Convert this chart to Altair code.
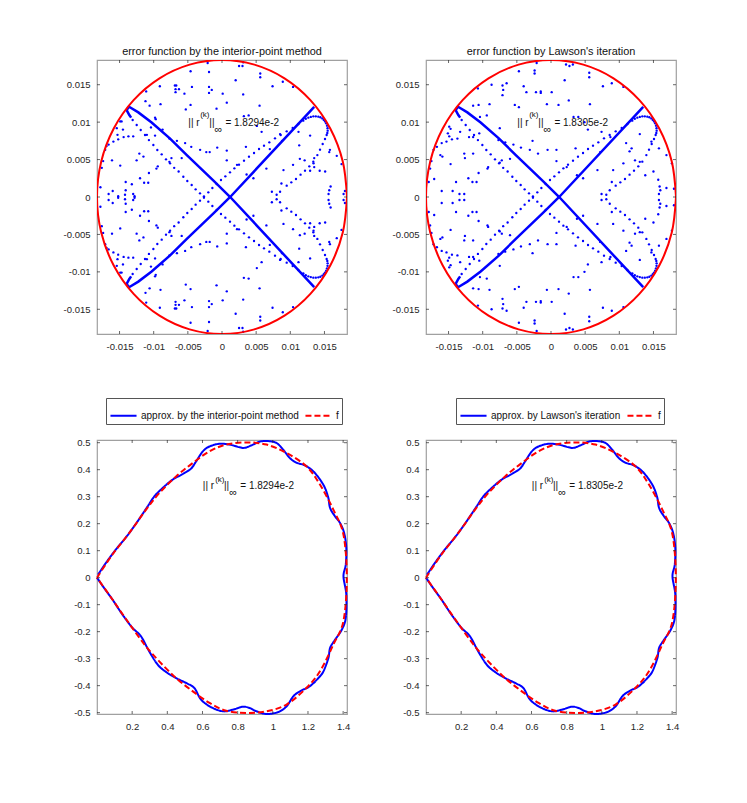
import pandas as pd
import altair as alt

FONT = "Liberation Sans"
INK = "#262626"
BLUE = "#0000ff"
RED = "#ff0000"

# error plots, values in units of 1e-3
ERR_TICKS = [-0.015, -0.01, -0.005, 0, 0.005, 0.01, 0.015]
ERR_DOMAIN = [-0.0183, 0.0183]

CIRCLE_X = [18.3, 17.68, 15.85, 12.94, 9.15, 4.74, 0, -4.74, -9.15, -12.94, -15.85, -17.68, -18.3,
            -17.68, -15.85, -12.94, -9.15, -4.74, 0, 4.74, 9.15, 12.94, 15.85, 17.68, 18.3]
CIRCLE_Y = [0, 4.74, 9.15, 12.94, 15.85, 17.68, 18.3, 17.68, 15.85, 12.94, 9.15, 4.74, 0,
            -4.74, -9.15, -12.94, -15.85, -17.68, -18.3, -17.68, -15.85, -12.94, -9.15, -4.74, 0]

THICK_X = [-13.3, -13.57, -13.96, -13.6, -12.25, -10.3, -7.6, -5.15, -1.25, 1.2, 13.5]
THICK_Y_A = [10.6, 10.95, 11.62, 12.05, 11.3, 9.95, 7.8, 5.6, 2.2, 0, -12.05]
THICK_Y_B = [-10.6, -10.95, -11.62, -12.05, -11.3, -9.95, -7.8, -5.6, -2.2, 0, 12.05]

LOOP_X = [-13.08, -12.49, -11.9, -11.27, -10.7, -10.05, -9.47, -8.83, -8.2, -7.6, -7.0, -6.35, -5.66,
          -5.08, -4.44, -3.86, -3.22, -2.64, -2.0, -1.41, -0.78, -0.15, 0.49, 1.17, 1.81, 2.49, 3.22,
          3.95, 4.69, 5.42, 6.15, 6.93, 7.76, 8.59, 9.47, 10.35, 11.18, 11.9, 12.27, 12.64, 13.0, 13.37,
          13.73, 14.1, 14.4, 14.69, 14.9, 15.08, 15.25, 15.37, 15.45, 15.47, 15.42, 15.32, 15.08, 14.74,
          14.35, 13.96, 13.37, 12.78, 12.15, 11.5, 10.83, 10.15, 9.47]
LOOP_Y_A = [10.29, 9.62, 8.95, 8.28, 7.6, 6.95, 6.28, 5.7, 5.03, 4.5, 3.9, 3.4, 2.7, 2.14, 1.6, 1.02,
            0.49, -0.09, -0.62, -1.2, -1.74, -2.27, -2.76, -3.29, -3.83, -4.32, -4.85, -5.39, -5.88,
            -6.41, -6.86, -7.3, -7.84, -8.28, -8.77, -9.22, -9.75, -10.2, -10.45, -10.6, -10.7, -10.77,
            -10.77, -10.73, -10.65, -10.5, -10.3, -10.1, -9.85, -9.53, -9.2, -8.86, -8.55, -8.28, -7.75,
            -7.08, -6.32, -5.6, -4.72, -4.1, -3.52, -2.98, -2.4, -1.96, -1.51]
LOOP_Y_B = [-10.29, -9.62, -8.95, -8.28, -7.6, -6.95, -6.28, -5.7, -5.03, -4.5, -3.9, -3.4, -2.7,
            -2.14, -1.6, -1.02, -0.49, 0.09, 0.62, 1.2, 1.74, 2.27, 2.76, 3.29, 3.83, 4.32, 4.85,
            5.39, 5.88, 6.41, 6.86, 7.3, 7.84, 8.28, 8.77, 9.22, 9.75, 10.2, 10.45, 10.6, 10.7, 10.77,
            10.77, 10.73, 10.65, 10.5, 10.3, 10.1, 9.85, 9.53, 9.2, 8.86, 8.55, 8.28, 7.75,
            7.08, 6.32, 5.6, 4.72, 4.1, 3.52, 2.98, 2.4, 1.96, 1.51]

IP_X = [-2.1, -1.9, -4.6, 2.5, 3.0, 3.1, 2.0, 5.6, 5.6, 8.9, 7.4, 10.4, -6.9, -6.7, -9.1, -4.4, -6.8,
        -6.3, -6.8, -5.5, -1.9, -1.5, -1.9, 0.1, 3.1, -11.1, -11.2, -10.6, -9.0, 0.7, -0.8, -5.3, -4.6,
        5.5, -9.8, -9.7, -10.4, -8.7, -11.0, -9.8, -7.7, -6.6, -5.4, -4.5, -3.2, -2.3, -1.8, -0.7, 0.7,
        3.2, 3.9, 5.1, 5.8, 8.5, 8.8, 11.2, 12.9, 11.3, 15.8, 15.7, 16.8, 17.5, 12.1, 13.5, 13.4, 13.5,
        10.4, 14.3, 15.1, 12.9, 9.0, 8.7, 8.5, 8.0, 7.3, 6.5, 3.5, 4.6, 3.6, 7.0, 0.7, 2.2, -7.4, -7.7,
        -5.9, -9.6, -9.4, -10.7, -17.8, -17.6, -17.4, -17.1, -16.9, -16.6, -15.9, -15.2, -14.4, -13.7,
        -13.0, -14.9, -14.7, -15.4, -15.3, -14.5, -16.1, -14.9, -12.5, -12.1, -11.5, -14.1, -14.1,
        -13.2, -14.2, -13.0, -12.8, -16.0, -15.2, -16.6, -12.0, -11.4, -10.8, 15.9, 15.7, 15.6, 18.0,
        17.8, 11.4]
IP_Y_UP = [17.9, 16.7, 16.8, 17.5, 17.5, 18.0, 15.6, 16.5, 16.0, 15.4, 14.8, 14.7, 14.9, 14.9, 14.8,
           14.7, 14.4, 14.4, 14.0, 13.8, 14.7, 14.3, 13.9, 13.8, 13.7, 14.1, 12.8, 12.2, 12.4, 12.6,
           11.8, 11.7, 12.3, 12.2, 10.6, 10.4, 9.3, 9.0, 8.3, 8.2, 7.8, 7.5, 7.2, 6.7, 6.3, 6.0, 6.0,
           6.6, 6.2, 10.8, 10.9, 9.5, 8.7, 8.4, 7.5, 8.7, 8.2, 6.9, 6.3, 6.0, 5.5, 4.4, 4.9, 5.2, 4.5,
           4.0, 4.3, 3.5, 3.4, 3.5, 3.6, 1.8, 0.7, 0.3, 0.7, 3.8, 6.7, 2.5, 3.0, 6.4, 4.9, 4.3, 5.2, 4.7,
           5.2, 3.8, 4.1, 3.2, 1.3, 3.9, 4.8, 6.3, 6.8, 7.0, 7.4, 7.7, 8.0, 8.1, 8.1, 10.1, 10.1, 9.2,
           8.3, 9.0, 4.9, 4.2, 4.9, 5.8, 5.4, 2.0, 0.9, 1.7, 0.3, 0.4, 0.1, 0.8, 0.1, 0.4, 2.5, 1.9, 1.9,
           1.4, 0.9, 0.4, 0.8, 0.4, 5.1]
IP_Y_DOWN = [-17.9, -16.7, -16.8, -17.5, -17.5, -18.0, -15.6, -16.5, -16.0, -15.4, -14.8, -14.7, -14.9,
             -14.9, -14.8, -14.7, -14.4, -14.4, -14.0, -13.8, -14.7, -14.3, -13.9, -13.8, -13.7, -14.1,
             -12.8, -12.2, -12.4, -12.6, -11.8, -11.7, -12.3, -12.2, -10.6, -10.4, -9.3, -9.0, -8.3,
             -8.2, -7.8, -7.5, -7.2, -6.7, -6.3, -6.0, -6.0, -6.6, -6.2, -10.8, -10.9, -9.5, -8.7, -8.4,
             -7.5, -8.7, -8.2, -6.9, -6.3, -6.0, -5.5, -4.4, -4.9, -5.2, -4.5, -4.0, -4.3, -3.5, -3.4,
             -3.5, -3.6, -1.8, -0.7, -0.3, -0.7, -3.8, -6.7, -2.5, -3.0, -6.4, -4.9, -4.3, -5.2, -4.7,
             -5.2, -3.8, -4.1, -3.2, -1.3, -3.9, -4.8, -6.3, -6.8, -7.0, -7.4, -7.7, -8.0, -8.1, -8.1,
             -10.1, -10.1, -9.2, -8.3, -9.0, -4.9, -4.2, -4.9, -5.8, -5.4, -2.0, -0.9, -1.7, -0.3, -0.4,
             -0.1, -0.8, -0.1, -0.4, -2.5, -1.9, -1.9, -1.4, -0.9, -0.4, -0.8, -0.4, -5.1]

LW_X = [-2.1, -4.7, -2.4, -2.4, 2.2, 2.7, 3.2, 2.0, 5.6, 5.6, 8.9, 7.6, 10.6, -6.5, -7.1, -8.7, -10.7,
        -4.0, -7.0, -7.1, -3.6, -2.2, -1.5, -1.5, 0.1, 2.6, 5.7, -0.6, 1.1, -5.3, -4.7, -9.0, -10.6,
        -11.4, -9.4, -10.4, -14.9, -14.7, -15.1, -14.9, -13.3, -12.0, -11.4, -10.5, -7.5, -7.7, -6.7,
        -5.5, -4.4, -3.1, -1.9, -2.7, -0.5, 0.8, 3.3, 4.0, 4.9, 5.4, 7.4, 8.7, 13.0, 11.0, 11.8, 11.5,
        14.7, 15.8, 16.9, 17.7, 12.3, 13.0, 10.6, 15.0, 13.8, 9.1, 8.9, 8.6, 7.4, 8.1, 6.8, 3.6, 4.7,
        3.8, 7.2, 0.8, 2.3, -7.2, -7.5, -6.0, -9.3, -9.2, -10.6, -12.7, -12.6, -11.4, -14.7, -15.9,
        -16.2, -12.1, -11.5, -10.9, -13.9, -14.4, -13.4, -12.7, -16.0, -17.1, -17.9, -17.7, -17.5,
        -17.2, -16.7, -16.0, -15.3, -14.5, -13.7, 16.0, 15.8, 15.9, 16.9, 18.0, 15.7]
LW_Y_UP = [17.9, 16.8, 16.9, 16.5, 17.7, 17.5, 17.7, 15.6, 16.6, 16.0, 15.2, 14.8, 14.7, 15.2, 14.9,
           15.0, 14.5, 14.8, 14.3, 13.6, 14.0, 14.0, 14.1, 13.9, 14.0, 12.9, 12.4, 12.4, 12.3, 12.3,
           12.0, 12.4, 12.3, 12.2, 10.9, 10.7, 9.4, 9.1, 8.5, 8.1, 8.7, 8.0, 8.0, 8.5, 9.2, 7.6, 7.3,
           7.0, 6.6, 6.3, 5.8, 7.5, 6.3, 6.3, 10.7, 10.7, 10.0, 9.0, 8.7, 8.0, 8.4, 7.2, 6.5, 6.1, 7.4,
           6.5, 5.6, 4.5, 4.9, 4.7, 4.5, 3.4, 2.9, 3.6, 2.0, 0.9, 0.4, 0.3, 3.6, 6.5, 2.5, 2.9, 6.0, 4.8,
           4.0, 4.9, 4.6, 5.1, 3.8, 4.0, 3.2, 5.8, 5.2, 5.8, 4.4, 5.4, 5.6, 2.5, 2.0, 2.0, 2.0, 0.8, 0.4,
           0.4, 0.8, 2.4, 2.0, 3.8, 4.8, 6.3, 6.7, 7.2, 7.4, 7.7, 7.8, 0.9, 0.4, 1.4, 1.2, 1.1, 2.3]
LW_Y_DOWN = [-17.9, -16.8, -16.9, -16.5, -17.7, -17.5, -17.7, -15.6, -16.6, -16.0, -15.2, -14.8, -14.7,
             -15.2, -14.9, -15.0, -14.5, -14.8, -14.3, -13.6, -14.0, -14.0, -14.1, -13.9, -14.0, -12.9,
             -12.4, -12.4, -12.3, -12.3, -12.0, -12.4, -12.3, -12.2, -10.9, -10.7, -9.4, -9.1, -8.5,
             -8.1, -8.7, -8.0, -8.0, -8.5, -9.2, -7.6, -7.3, -7.0, -6.6, -6.3, -5.8, -7.5, -6.3, -6.3,
             -10.7, -10.7, -10.0, -9.0, -8.7, -8.0, -8.4, -7.2, -6.5, -6.1, -7.4, -6.5, -5.6, -4.5, -4.9,
             -4.7, -4.5, -3.4, -2.9, -3.6, -2.0, -0.9, -0.4, -0.3, -3.6, -6.5, -2.5, -2.9, -6.0, -4.8,
             -4.0, -4.9, -4.6, -5.1, -3.8, -4.0, -3.2, -5.8, -5.2, -5.8, -4.4, -5.4, -5.6, -2.5, -2.0,
             -2.0, -2.0, -0.8, -0.4, -0.4, -0.8, -2.4, -2.0, -3.8, -4.8, -6.3, -6.7, -7.2, -7.4, -7.7,
             -7.8, -0.9, -0.4, -1.4, -1.2, -1.1, -2.3]

# boundary curves
CURVE_X_TICKS = [0.2, 0.4, 0.6, 0.8, 1, 1.2, 1.4]
CURVE_Y_TICKS = [-0.5, -0.4, -0.3, -0.2, -0.1, 0, 0.1, 0.2, 0.3, 0.4, 0.5]
CURVE_X_DOMAIN = [0, 1.422]
CURVE_Y_DOMAIN = [-0.505, 0.51]

APPROX_X = [0.006, 0.05, 0.107, 0.164, 0.211, 0.25, 0.288, 0.326, 0.373, 0.43, 0.488, 0.535, 0.564,
            0.602, 0.64, 0.697, 0.754, 0.811, 0.84, 0.878, 0.926, 0.973, 1.021, 1.059, 1.097, 1.135,
            1.183, 1.23, 1.269, 1.297, 1.316, 1.326, 1.354, 1.383, 1.406, 1.418, 1.415, 1.402, 1.418,
            1.415, 1.392, 1.354, 1.326, 1.316, 1.288, 1.259, 1.211, 1.154, 1.116, 1.078, 1.03, 0.964,
            0.907, 0.869, 0.83, 0.773, 0.716, 0.65, 0.592, 0.554, 0.507, 0.45, 0.392, 0.345, 0.297,
            0.25, 0.202, 0.145, 0.088, 0.04, 0]
APPROX_Y = [0.011, 0.054, 0.104, 0.149, 0.19, 0.227, 0.264, 0.301, 0.332, 0.363, 0.384, 0.404, 0.431,
            0.468, 0.486, 0.496, 0.493, 0.483, 0.481, 0.49, 0.504, 0.506, 0.499, 0.474, 0.443, 0.426,
            0.416, 0.394, 0.363, 0.332, 0.295, 0.258, 0.227, 0.202, 0.165, 0.11, 0.048, 0.005, -0.063,
            -0.149, -0.193, -0.23, -0.26, -0.298, -0.347, -0.372, -0.402, -0.421, -0.44, -0.477,
            -0.498, -0.505, -0.495, -0.483, -0.478, -0.489, -0.495, -0.48, -0.452, -0.409, -0.39,
            -0.372, -0.349, -0.322, -0.273, -0.217, -0.186, -0.137, -0.081, -0.038, 0]
TARGET_X = [0, 0.088, 0.183, 0.278, 0.354, 0.45, 0.545, 0.64, 0.735, 0.85, 0.964, 1.078, 1.192, 1.269,
            1.345, 1.402, 1.421, 1.402, 1.345, 1.269, 1.192, 1.078, 0.964, 0.85, 0.735, 0.64, 0.545,
            0.45, 0.354, 0.278, 0.183, 0.088, 0]
TARGET_Y = [0, 0.086, 0.165, 0.251, 0.313, 0.375, 0.425, 0.468, 0.493, 0.501, 0.493, 0.462, 0.412,
            0.344, 0.251, 0.159, 0, -0.16, -0.247, -0.346, -0.408, -0.47, -0.495, -0.501, -0.493,
            -0.464, -0.421, -0.372, -0.31, -0.254, -0.17, -0.081, 0]

NORM_TEXT = ["|| r", "(k)", "||", "\u221e"]
NORM_SIZE = [10, 8, 10, 11]
ERR_NORM_X = [-4.93, -3.2, -1.85, -1.1]
ERR_NORM_Y = [9.85, 10.9, 9.85, 8.9]
ERR_VALUE_POS = [0.5, 9.85]
CURVE_NORM_X = [0.602, 0.672, 0.722, 0.752]
CURVE_NORM_Y = [0.338, 0.363, 0.338, 0.315]
CURVE_VALUE_POS = [0.815, 0.338]


def inward_ticks(x_kw, y_kw, x_ticks, y_ticks, w, h):
    xt = pd.DataFrame({"v": x_ticks})
    yt = pd.DataFrame({"v": y_ticks})
    rule = dict(color=INK, strokeWidth=0.7)
    x = alt.X("v:Q", **x_kw)
    y = alt.Y("v:Q", **y_kw)
    return [
        alt.Chart(xt).mark_rule(**rule).encode(x=x, y=alt.value(h), y2=alt.value(h - 3)),
        alt.Chart(xt).mark_rule(**rule).encode(x=x, y=alt.value(0), y2=alt.value(3)),
        alt.Chart(yt).mark_rule(**rule).encode(y=y, x=alt.value(0), x2=alt.value(3)),
        alt.Chart(yt).mark_rule(**rule).encode(y=y, x=alt.value(w), x2=alt.value(w - 3)),
    ]


def norm_labels(x_kw, y_kw, xs, ys, value_pos, value):
    parts = pd.DataFrame({"t": NORM_TEXT + ["= " + value], "x": xs + [value_pos[0]],
                          "y": ys + [value_pos[1]], "s": NORM_SIZE + [10]})
    return alt.Chart(parts).mark_text(font=FONT, align="left", color="#111111").encode(
        x=alt.X("x:Q", **x_kw), y=alt.Y("y:Q", **y_kw), text="t:N",
        size=alt.Size("s:Q", scale=None, legend=None))


def axes(domain_x, domain_y, ticks_x, ticks_y):
    label = dict(labelFont=FONT, labelFontSize=9.5, labelColor=INK, labelPadding=7, title=None, grid=False,
                 domain=False, ticks=False, labelExpr="'' + datum.value", labelFlush=False, labelOverlap=False,
                 labelBound=False)
    x_kw = dict(scale=alt.Scale(domain=domain_x, nice=False, zero=False), axis=alt.Axis(values=ticks_x, **label))
    y_kw = dict(scale=alt.Scale(domain=domain_y, nice=False, zero=False), axis=alt.Axis(values=ticks_y, **label))
    return x_kw, y_kw


def error_panel(title, xs, ys_up, ys_down, value):
    x_kw, y_kw = axes(ERR_DOMAIN, ERR_DOMAIN, ERR_TICKS, ERR_TICKS)
    x = alt.X("x:Q", **x_kw)
    y = alt.Y("y:Q", **y_kw)
    dots = pd.DataFrame({"x": xs + xs + LOOP_X + LOOP_X,
                         "y": ys_up + ys_down + LOOP_Y_A + LOOP_Y_B})
    dots[["x", "y"]] *= 1e-3
    thick = pd.DataFrame({"x": THICK_X + THICK_X, "y": THICK_Y_A + THICK_Y_B,
                          "g": ["a"] * len(THICK_X) + ["b"] * len(THICK_X),
                          "i": list(range(len(THICK_X))) * 2})
    thick[["x", "y"]] *= 1e-3
    circle = pd.DataFrame({"x": CIRCLE_X, "y": CIRCLE_Y, "i": range(len(CIRCLE_X))})
    circle[["x", "y"]] *= 1e-3
    norm_x = [v * 1e-3 for v in ERR_NORM_X]
    norm_y = [v * 1e-3 for v in ERR_NORM_Y]
    layers = [
        alt.Chart(dots).mark_circle(size=5.5, color=BLUE, opacity=1).encode(x=x, y=y),
        alt.Chart(thick).mark_line(color=BLUE, strokeWidth=2.5).encode(x=x, y=y, detail="g:N", order="i:Q"),
        alt.Chart(circle).mark_line(color=RED, strokeWidth=2, interpolate="cardinal", clip=True).encode(
            x=x, y=y, order="i:Q"),
        norm_labels(x_kw, y_kw, norm_x, norm_y, [ERR_VALUE_POS[0] * 1e-3, ERR_VALUE_POS[1] * 1e-3], value),
    ] + inward_ticks(x_kw, y_kw, ERR_TICKS, ERR_TICKS, 250, 274)
    return alt.layer(*layers).properties(
        width=250, height=274,
        title=alt.TitleParams(title, font=FONT, fontSize=10.9, fontWeight="normal", color="#111111", offset=3))


def curve_panel(label, legend_x, value):
    x_kw, y_kw = axes(CURVE_X_DOMAIN, CURVE_Y_DOMAIN, CURVE_X_TICKS, CURVE_Y_TICKS)
    approx = pd.DataFrame({"x": APPROX_X, "y": APPROX_Y, "i": range(len(APPROX_X)), "s": label})
    target = pd.DataFrame({"x": TARGET_X, "y": TARGET_Y, "i": range(len(TARGET_X)), "s": "f"})
    lines = pd.concat([approx, target])
    legend = alt.Legend(orient="none", legendX=legend_x, legendY=-42, direction="horizontal", title=None,
                        symbolType="stroke", symbolSize=680, symbolStrokeWidth=2, labelFont=FONT,
                        labelFontSize=10, labelColor="#111111", strokeColor="#555555", fillColor="white",
                        padding=3, columnPadding=2, labelOffset=3)
    layers = [
        alt.Chart(lines).mark_line(strokeWidth=2, interpolate="cardinal").encode(
            x=alt.X("x:Q", **x_kw), y=alt.Y("y:Q", **y_kw), order="i:Q",
            color=alt.Color("s:N", scale=alt.Scale(domain=[label, "f"], range=[BLUE, RED]), legend=legend),
            strokeDash=alt.StrokeDash("s:N", scale=alt.Scale(domain=[label, "f"], range=[[1, 0], [6, 3]]),
                                      legend=legend)),
        norm_labels(x_kw, y_kw, CURVE_NORM_X, CURVE_NORM_Y, CURVE_VALUE_POS, value),
    ] + inward_ticks(x_kw, y_kw, CURVE_X_TICKS, CURVE_Y_TICKS, 250, 274)
    return alt.layer(*layers).properties(width=250, height=274)


chart = alt.concat(
    error_panel("error function by the interior-point method", IP_X, IP_Y_UP, IP_Y_DOWN, "1.8294e-2"),
    error_panel("error function by Lawson's iteration", LW_X, LW_Y_UP, LW_Y_DOWN, "1.8305e-2"),
    curve_panel("approx. by the interior-point method", 9, "1.8294e-2"),
    curve_panel("approx. by Lawson's iteration", 30, "1.8305e-2"),
    columns=2, spacing={"row": 106, "column": 79}, bounds="flush",
).resolve_scale(color="independent", strokeDash="independent").properties(
    padding={"left": 54, "top": 37, "right": 5, "bottom": 5}
).configure_view(stroke="#a0a0a0", strokeWidth=1.2)

chart.save("out.html", embed_options={"renderer": "svg", "actions": False})
